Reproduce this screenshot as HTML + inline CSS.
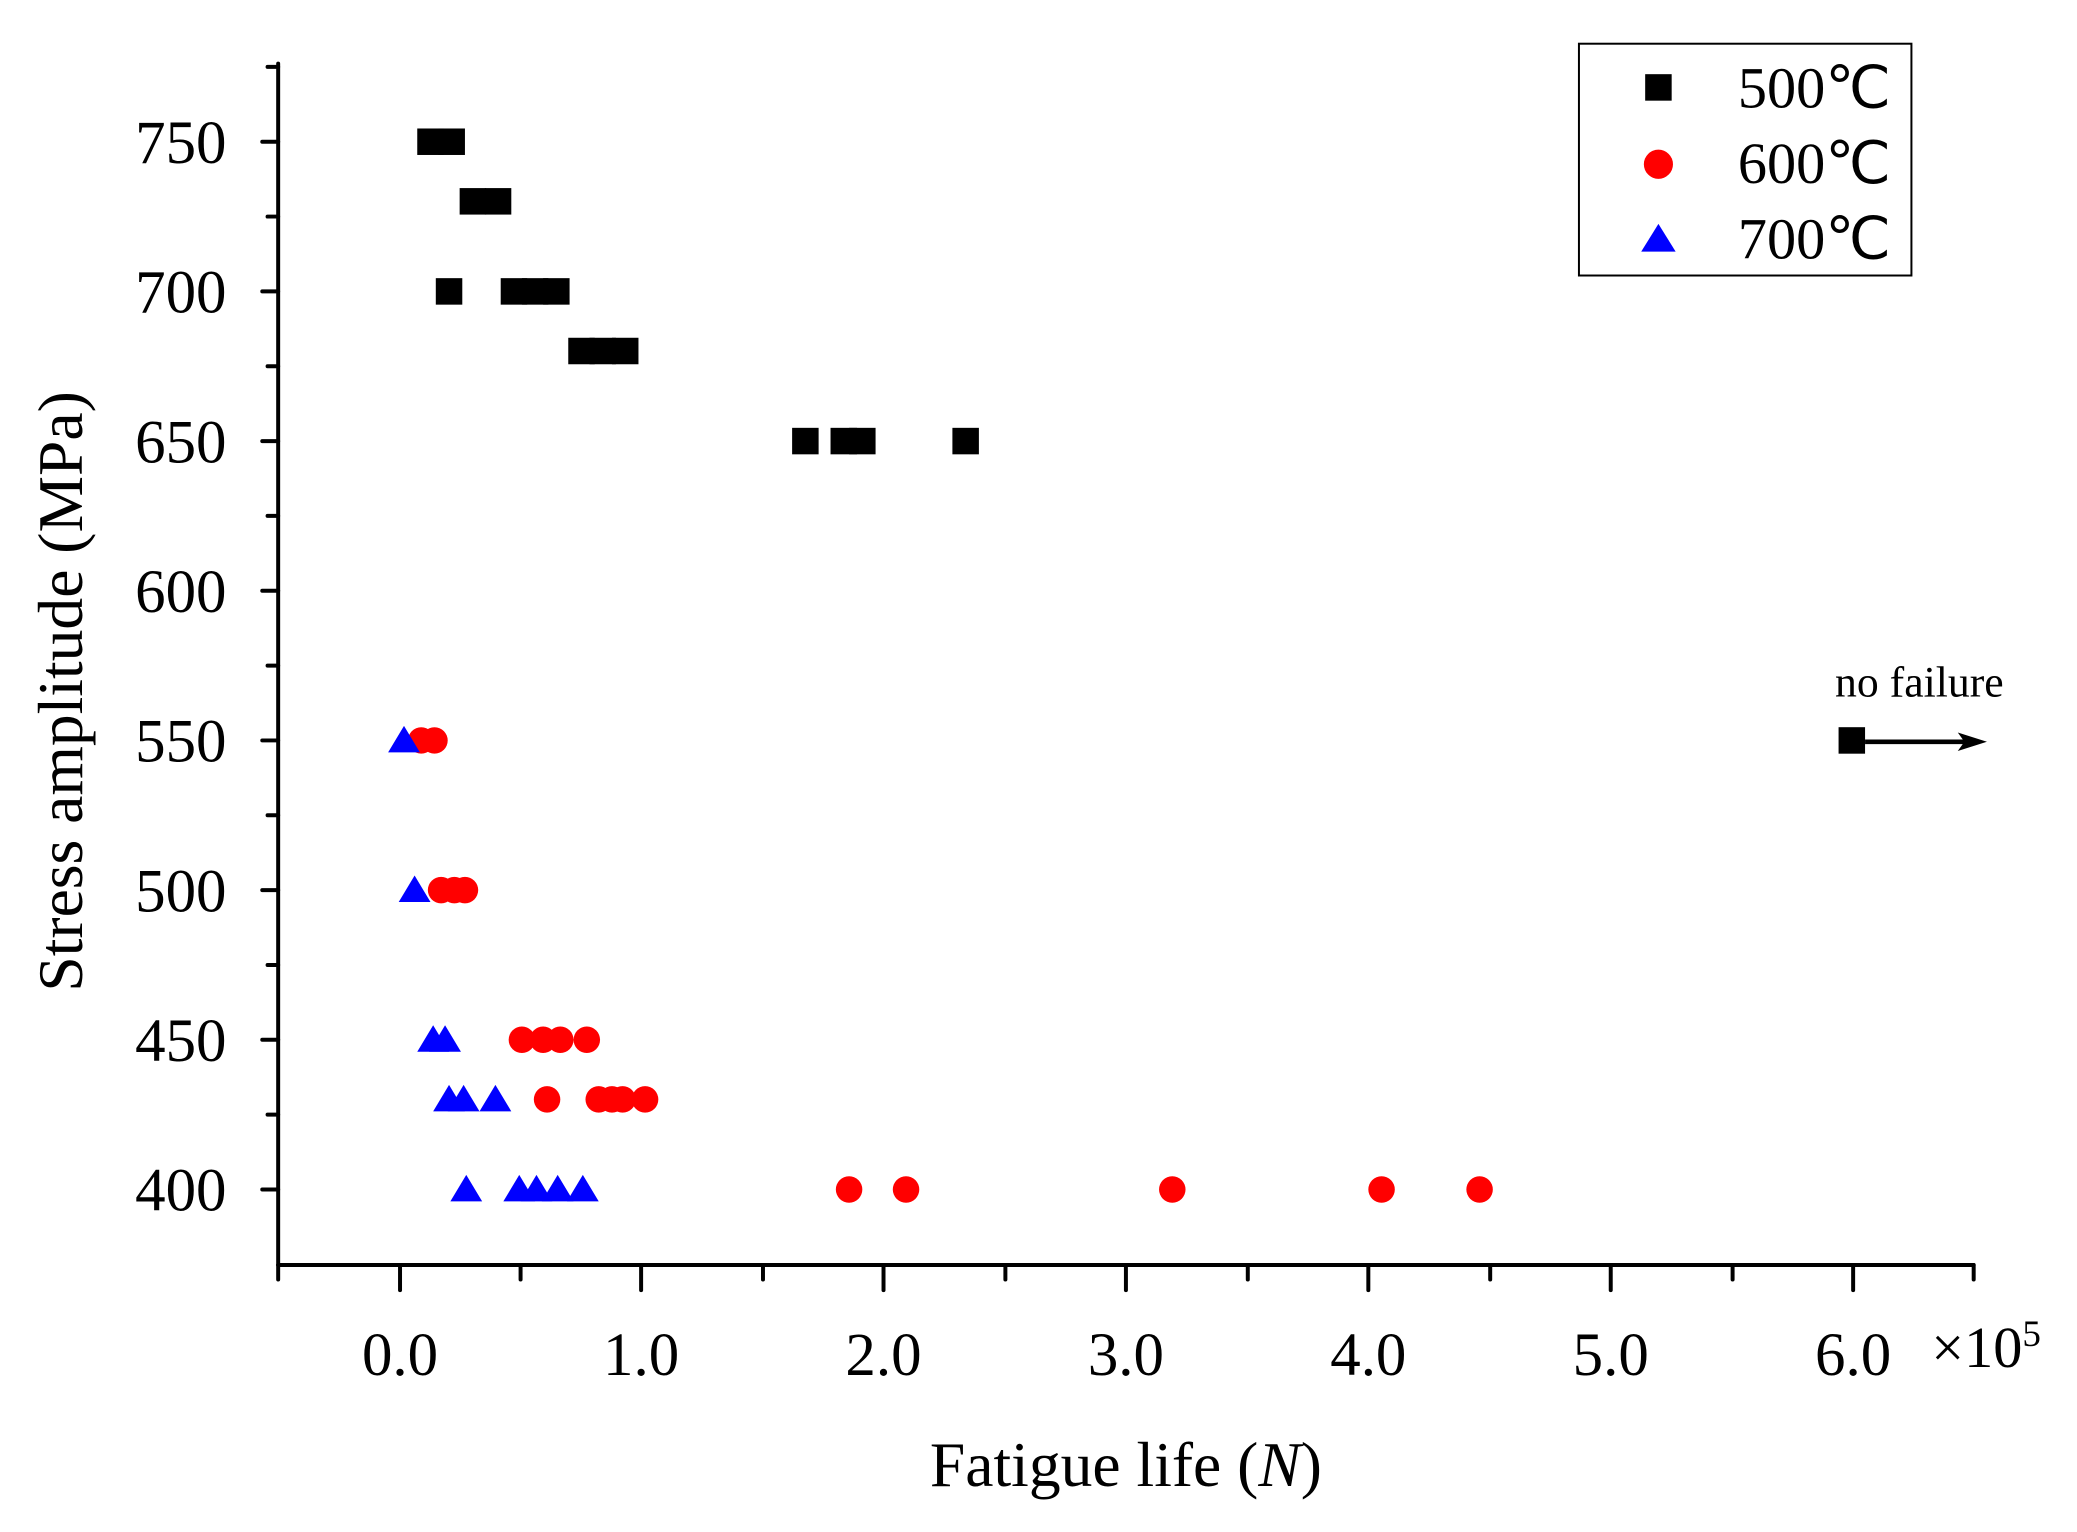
<!DOCTYPE html>
<html><head><meta charset="utf-8"><style>
html,body{margin:0;padding:0;background:#fff;}
svg{display:block;}
text{font-family:"Liberation Serif",serif;fill:#000;}
</style></head><body>
<svg width="2077" height="1532" viewBox="0 0 1568 1156.6" preserveAspectRatio="none" xmlns="http://www.w3.org/2000/svg">
<g stroke="#000" stroke-width="3" fill="none" stroke-linecap="round">
<line x1="210" y1="48" x2="210" y2="955"/>
<line x1="210" y1="955" x2="1490" y2="955"/>
<line x1="198" y1="107" x2="210" y2="107"/><line x1="198" y1="220" x2="210" y2="220"/><line x1="198" y1="333" x2="210" y2="333"/><line x1="198" y1="446" x2="210" y2="446"/><line x1="198" y1="559" x2="210" y2="559"/><line x1="198" y1="672" x2="210" y2="672"/><line x1="198" y1="785" x2="210" y2="785"/><line x1="198" y1="898" x2="210" y2="898"/>
<line x1="202" y1="50.5" x2="210" y2="50.5"/><line x1="202" y1="163.5" x2="210" y2="163.5"/><line x1="202" y1="276.5" x2="210" y2="276.5"/><line x1="202" y1="389.5" x2="210" y2="389.5"/><line x1="202" y1="502.5" x2="210" y2="502.5"/><line x1="202" y1="615.5" x2="210" y2="615.5"/><line x1="202" y1="728.5" x2="210" y2="728.5"/><line x1="202" y1="841.5" x2="210" y2="841.5"/>
<line x1="302" y1="955" x2="302" y2="974"/><line x1="484" y1="955" x2="484" y2="974"/><line x1="667" y1="955" x2="667" y2="974"/><line x1="850" y1="955" x2="850" y2="974"/><line x1="1033" y1="955" x2="1033" y2="974"/><line x1="1216" y1="955" x2="1216" y2="974"/><line x1="1399" y1="955" x2="1399" y2="974"/>
<line x1="210" y1="955" x2="210" y2="966"/><line x1="393" y1="955" x2="393" y2="966"/><line x1="576" y1="955" x2="576" y2="966"/><line x1="759" y1="955" x2="759" y2="966"/><line x1="942" y1="955" x2="942" y2="966"/><line x1="1125" y1="955" x2="1125" y2="966"/><line x1="1308" y1="955" x2="1308" y2="966"/><line x1="1490" y1="955" x2="1490" y2="966"/>
</g>
<g font-size="46" text-anchor="end">
<text x="171" y="123">750</text><text x="171" y="236">700</text><text x="171" y="349">650</text><text x="171" y="462">600</text><text x="171" y="575">550</text><text x="171" y="688">500</text><text x="171" y="801">450</text><text x="171" y="914">400</text>
</g>
<g font-size="46" text-anchor="middle">
<text x="302" y="1038">0.0</text><text x="484" y="1038">1.0</text><text x="667" y="1038">2.0</text><text x="850" y="1038">3.0</text><text x="1033" y="1038">4.0</text><text x="1216" y="1038">5.0</text><text x="1399" y="1038">6.0</text>
</g>
<text x="1458" y="1032" font-size="44">×10<tspan font-size="28" dy="-16">5</tspan></text>
<text x="850" y="1122" font-size="48" text-anchor="middle">Fatigue life (<tspan font-style="italic">N</tspan>)</text>
<text transform="translate(62,522) rotate(-90)" font-size="48" text-anchor="middle">Stress amplitude (MPa)</text>
<text x="1449" y="526" font-size="33" text-anchor="middle">no failure</text>
<g fill="#000">
<rect x="315" y="97" width="20" height="20"/><rect x="331" y="97" width="20" height="20"/>
<rect x="347" y="142" width="20" height="20"/><rect x="366" y="142" width="20" height="20"/>
<rect x="329" y="210" width="20" height="20"/><rect x="378" y="210" width="20" height="20"/><rect x="394" y="210" width="20" height="20"/><rect x="410" y="210" width="20" height="20"/>
<rect x="429" y="255" width="20" height="20"/><rect x="445" y="255" width="20" height="20"/><rect x="462" y="255" width="20" height="20"/>
<rect x="598" y="323" width="20" height="20"/><rect x="627" y="323" width="20" height="20"/><rect x="641" y="323" width="20" height="20"/><rect x="719" y="323" width="20" height="20"/>
<rect x="1388" y="549" width="20" height="20"/>
<line x1="1408" y1="560" x2="1488" y2="560" stroke="#000" stroke-width="3.5"/>
<path d="M1500,560 L1478,553 L1483,560 L1478,567 Z"/>
<rect x="1242" y="56" width="20" height="20"/>
</g>
<g fill="#f00">
<circle cx="318" cy="559" r="10"/><circle cx="328" cy="559" r="10"/>
<circle cx="333" cy="672" r="10"/><circle cx="343" cy="672" r="10"/><circle cx="351" cy="672" r="10"/>
<circle cx="394" cy="785" r="10"/><circle cx="410" cy="785" r="10"/><circle cx="423" cy="785" r="10"/><circle cx="443" cy="785" r="10"/>
<circle cx="413" cy="830" r="10"/><circle cx="452" cy="830" r="10"/><circle cx="462" cy="830" r="10"/><circle cx="470" cy="830" r="10"/><circle cx="487" cy="830" r="10"/>
<circle cx="641" cy="898" r="10"/><circle cx="684" cy="898" r="10"/><circle cx="885" cy="898" r="10"/><circle cx="1043" cy="898" r="10"/><circle cx="1117" cy="898" r="10"/>
<circle cx="1252" cy="124" r="11"/>
</g>
<g fill="#00f">
<path d="M305,548 l-12,20 h24 Z"/>
<path d="M313,661 l-12,20 h24 Z"/>
<path d="M327,774 l-12,20 h24 Z"/><path d="M336,774 l-12,20 h24 Z"/>
<path d="M339,819 l-12,20 h24 Z"/><path d="M350,819 l-12,20 h24 Z"/><path d="M374,819 l-12,20 h24 Z"/>
<path d="M352,887 l-12,20 h24 Z"/><path d="M392,887 l-12,20 h24 Z"/><path d="M405,887 l-12,20 h24 Z"/><path d="M421,887 l-12,20 h24 Z"/><path d="M440,887 l-12,20 h24 Z"/>
<path d="M1252,169 l-13,21 h26 Z"/>
</g>
<rect x="1192" y="33" width="251" height="175" fill="none" stroke="#000" stroke-width="1.5"/>
<g font-size="44">
<text x="1312" y="81">500℃</text><text x="1312" y="138">600℃</text><text x="1312" y="195">700℃</text>
</g>
</svg>
</body></html>
